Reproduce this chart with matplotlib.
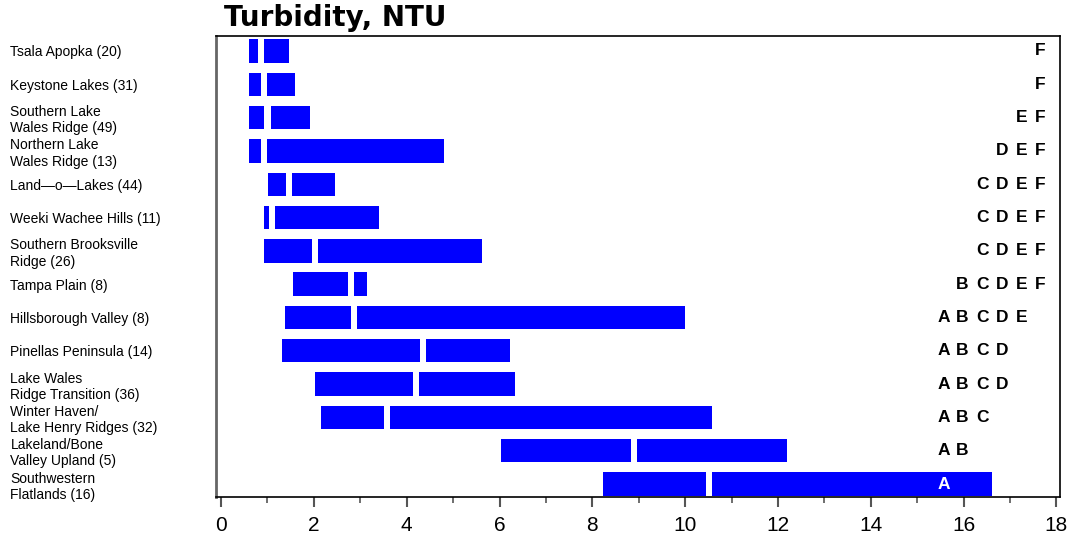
import numpy as np
import matplotlib
matplotlib.use("Agg")
from matplotlib import pyplot as plt
from matplotlib.ticker import MultipleLocator

plt.rcParams['font.family'] = ['Liberation Sans', 'DejaVu Sans']

regions = ['Tsala Apopka (20)', 'Keystone Lakes (31)', 'Southern Lake\nWales Ridge (49)',
           'Northern Lake\nWales Ridge (13)', 'Land\u2014o\u2014Lakes (44)', 'Weeki Wachee Hills (11)',
           'Southern Brooksville\nRidge (26)', 'Tampa Plain (8)', 'Hillsborough Valley (8)',
           'Pinellas Peninsula (14)', 'Lake Wales\nRidge Transition (36)',
           'Winter Haven/\nLake Henry Ridges (32)', 'Lakeland/Bone\nValley Upland (5)',
           'Southwestern\nFlatlands (16)']
q1 = [0.60, 0.61, 0.61, 0.61, 1.01, 0.93, 0.93, 1.54, 1.38, 1.32, 2.03, 2.16, 6.03, 8.23]
median = [0.86, 0.92, 1.00, 0.92, 1.47, 1.10, 2.02, 2.81, 2.86, 4.36, 4.20, 3.57, 8.90, 10.52]
q3 = [1.47, 1.59, 1.91, 4.80, 2.46, 3.41, 5.62, 3.14, 10.00, 6.22, 6.34, 10.58, 12.20, 16.62]
groups = ['F', 'F', 'EF', 'DEF', 'CDEF', 'CDEF', 'CDEF', 'BCDEF', 'ABCDE', 'ABCD',
          'ABCD', 'ABC', 'AB', 'A']
letter_x = {'A': 15.58, 'B': 15.97, 'C': 16.40, 'D': 16.83, 'E': 17.26, 'F': 17.65}

BLUE = '#0000ff'
GAP = 0.13
HEIGHT = 0.7

fig = plt.figure(figsize=(10.73, 5.42), dpi=100)
ax = fig.add_axes([0.2013, 0.083, 0.7866, 0.8506])

y = np.arange(len(regions))
q1 = np.array(q1)
median = np.array(median)
q3 = np.array(q3)

# box from q1 to q3 split by a white gap at the median
ax.barh(y, median - GAP / 2 - q1, left=q1, height=HEIGHT, color=BLUE, linewidth=0)
ax.barh(y, q3 - (median + GAP / 2), left=median + GAP / 2, height=HEIGHT, color=BLUE, linewidth=0)

for i, g in enumerate(groups):
    col = 'white' if (q1[i] < letter_x['A'] < q3[i]) else 'black'
    for ch in g:
        ax.text(letter_x[ch], i, ch, ha='center', va='center', fontsize=12.5,
                fontweight='bold', color=col)

ax.set_xlim(-0.11, 18.08)
ax.set_ylim(13.39, -0.45)
ax.xaxis.set_major_locator(MultipleLocator(2))
ax.xaxis.set_minor_locator(MultipleLocator(1))
ax.tick_params(axis='x', which='major', length=7, width=1.5, labelsize=15, pad=7, color='#555555')
ax.tick_params(axis='x', which='minor', length=4, width=1.2, color='#555555')

ax.set_yticks(y)
ax.set_yticklabels(regions, fontsize=10, linespacing=1.2)
ax.tick_params(axis='y', length=0, pad=148)
for lab in ax.get_yticklabels():
    lab.set_ha('left')

for side in ['top', 'right', 'bottom']:
    ax.spines[side].set_linewidth(1.2)
ax.spines['left'].set_linewidth(2)
ax.spines['left'].set_color('#666666')

fig.text(0.209, 0.966, 'Turbidity, NTU', fontsize=20, fontweight='bold', va='center', ha='left',
         family='DejaVu Sans')

fig.savefig('out.png', dpi=100)
